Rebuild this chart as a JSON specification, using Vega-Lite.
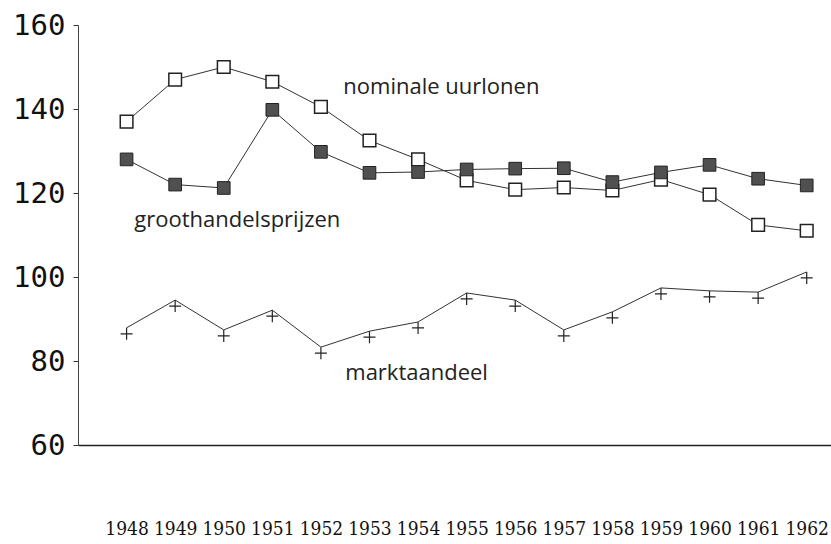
{
  "$schema": "https://vega.github.io/schema/vega-lite/v6.json",
  "width": 753,
  "height": 420,
  "autosize": {"type": "none"},
  "padding": {"left": 78, "top": 25, "right": 0, "bottom": 99},
  "background": "white",
  "config": {"view": {"stroke": null}},
  "datasets": {
    "series": [
      {"series": "nominale uurlonen", "year": 1948, "value": 137},
      {"series": "nominale uurlonen", "year": 1949, "value": 147},
      {"series": "nominale uurlonen", "year": 1950, "value": 150},
      {"series": "nominale uurlonen", "year": 1951, "value": 146.5},
      {"series": "nominale uurlonen", "year": 1952, "value": 140.5},
      {"series": "nominale uurlonen", "year": 1953, "value": 132.5},
      {"series": "nominale uurlonen", "year": 1954, "value": 128},
      {"series": "nominale uurlonen", "year": 1955, "value": 123},
      {"series": "nominale uurlonen", "year": 1956, "value": 120.8},
      {"series": "nominale uurlonen", "year": 1957, "value": 121.3},
      {"series": "nominale uurlonen", "year": 1958, "value": 120.6},
      {"series": "nominale uurlonen", "year": 1959, "value": 123.2},
      {"series": "nominale uurlonen", "year": 1960, "value": 119.6},
      {"series": "nominale uurlonen", "year": 1961, "value": 112.4},
      {"series": "nominale uurlonen", "year": 1962, "value": 111},
      {"series": "groothandelsprijzen", "year": 1948, "value": 128},
      {"series": "groothandelsprijzen", "year": 1949, "value": 122},
      {"series": "groothandelsprijzen", "year": 1950, "value": 121.2},
      {"series": "groothandelsprijzen", "year": 1951, "value": 139.8},
      {"series": "groothandelsprijzen", "year": 1952, "value": 129.8},
      {"series": "groothandelsprijzen", "year": 1953, "value": 124.8},
      {"series": "groothandelsprijzen", "year": 1954, "value": 125},
      {"series": "groothandelsprijzen", "year": 1955, "value": 125.6},
      {"series": "groothandelsprijzen", "year": 1956, "value": 125.8},
      {"series": "groothandelsprijzen", "year": 1957, "value": 125.9},
      {"series": "groothandelsprijzen", "year": 1958, "value": 122.6},
      {"series": "groothandelsprijzen", "year": 1959, "value": 124.9},
      {"series": "groothandelsprijzen", "year": 1960, "value": 126.7},
      {"series": "groothandelsprijzen", "year": 1961, "value": 123.4},
      {"series": "groothandelsprijzen", "year": 1962, "value": 121.8},
      {"series": "marktaandeel", "year": 1948, "value": 87.9},
      {"series": "marktaandeel", "year": 1949, "value": 94.5},
      {"series": "marktaandeel", "year": 1950, "value": 87.4},
      {"series": "marktaandeel", "year": 1951, "value": 92.1},
      {"series": "marktaandeel", "year": 1952, "value": 83.3},
      {"series": "marktaandeel", "year": 1953, "value": 87.1},
      {"series": "marktaandeel", "year": 1954, "value": 89.3},
      {"series": "marktaandeel", "year": 1955, "value": 96.2},
      {"series": "marktaandeel", "year": 1956, "value": 94.5},
      {"series": "marktaandeel", "year": 1957, "value": 87.4},
      {"series": "marktaandeel", "year": 1958, "value": 91.7},
      {"series": "marktaandeel", "year": 1959, "value": 97.4},
      {"series": "marktaandeel", "year": 1960, "value": 96.7},
      {"series": "marktaandeel", "year": 1961, "value": 96.4},
      {"series": "marktaandeel", "year": 1962, "value": 101.2}
    ],
    "labels": [
      {"label": "nominale uurlonen", "year": 1954.48, "value": 145.2},
      {"label": "groothandelsprijzen", "year": 1950.28, "value": 113.6},
      {"label": "marktaandeel", "year": 1953.97, "value": 77.1}
    ]
  },
  "data": {"name": "series"},
  "encoding": {
    "x": {
      "field": "year",
      "type": "quantitative",
      "scale": {"domain": [1947, 1962.5], "nice": false, "zero": false},
      "axis": {
        "title": null,
        "values": [1948, 1949, 1950, 1951, 1952, 1953, 1954, 1955, 1956, 1957, 1958, 1959, 1960, 1961, 1962],
        "format": "d",
        "grid": false,
        "ticks": false,
        "tickSize": 0,
        "labelPadding": 83,
        "labelBaseline": "middle",
        "labelFont": "DejaVu Serif Condensed",
        "labelFontSize": 19,
        "labelColor": "#111",
        "labelOverlap": false,
        "labelFlush": false,
        "labelDx": -3,
        "domainColor": "#222",
        "domainWidth": 1.3
      }
    },
    "y": {
      "field": "value",
      "type": "quantitative",
      "scale": {"domain": [60, 160], "nice": false, "zero": false},
      "axis": {
        "title": null,
        "values": [60, 80, 100, 120, 140, 160],
        "grid": false,
        "tickSize": 5,
        "tickColor": "#333",
        "labelPadding": 8,
        "labelFont": "DejaVu Sans Mono",
        "labelFontSize": 29,
        "labelFontWeight": "normal",
        "labelColor": "#111",
        "labelBaseline": "middle",
        "labelFlush": false,
        "labelOverlap": false,
        "domainColor": "#444",
        "domainWidth": 1
      }
    }
  },
  "layer": [
    {
      "mark": {"type": "line", "stroke": "#333", "strokeWidth": 1},
      "encoding": {"detail": {"field": "series"}}
    },
    {
      "transform": [{"filter": "datum.series === 'nominale uurlonen'"}],
      "mark": {"type": "point", "shape": "square", "filled": true, "fill": "white", "stroke": "#222", "strokeWidth": 1.5, "size": 160, "opacity": 1}
    },
    {
      "transform": [{"filter": "datum.series === 'groothandelsprijzen'"}],
      "mark": {"type": "point", "shape": "square", "filled": true, "fill": "#505050", "stroke": "#222", "strokeWidth": 1, "size": 160, "opacity": 1}
    },
    {
      "transform": [{"filter": "datum.series === 'marktaandeel'"}],
      "mark": {"type": "point", "shape": "M-1,1H1M0,0V2", "filled": false, "stroke": "#222", "strokeWidth": 1.2, "size": 144, "opacity": 1}
    },
    {
      "data": {"name": "labels"},
      "mark": {"type": "text", "font": "Open Sans", "fontSize": 22, "align": "center", "baseline": "middle", "color": "#222"},
      "encoding": {"text": {"field": "label"}}
    }
  ]
}
